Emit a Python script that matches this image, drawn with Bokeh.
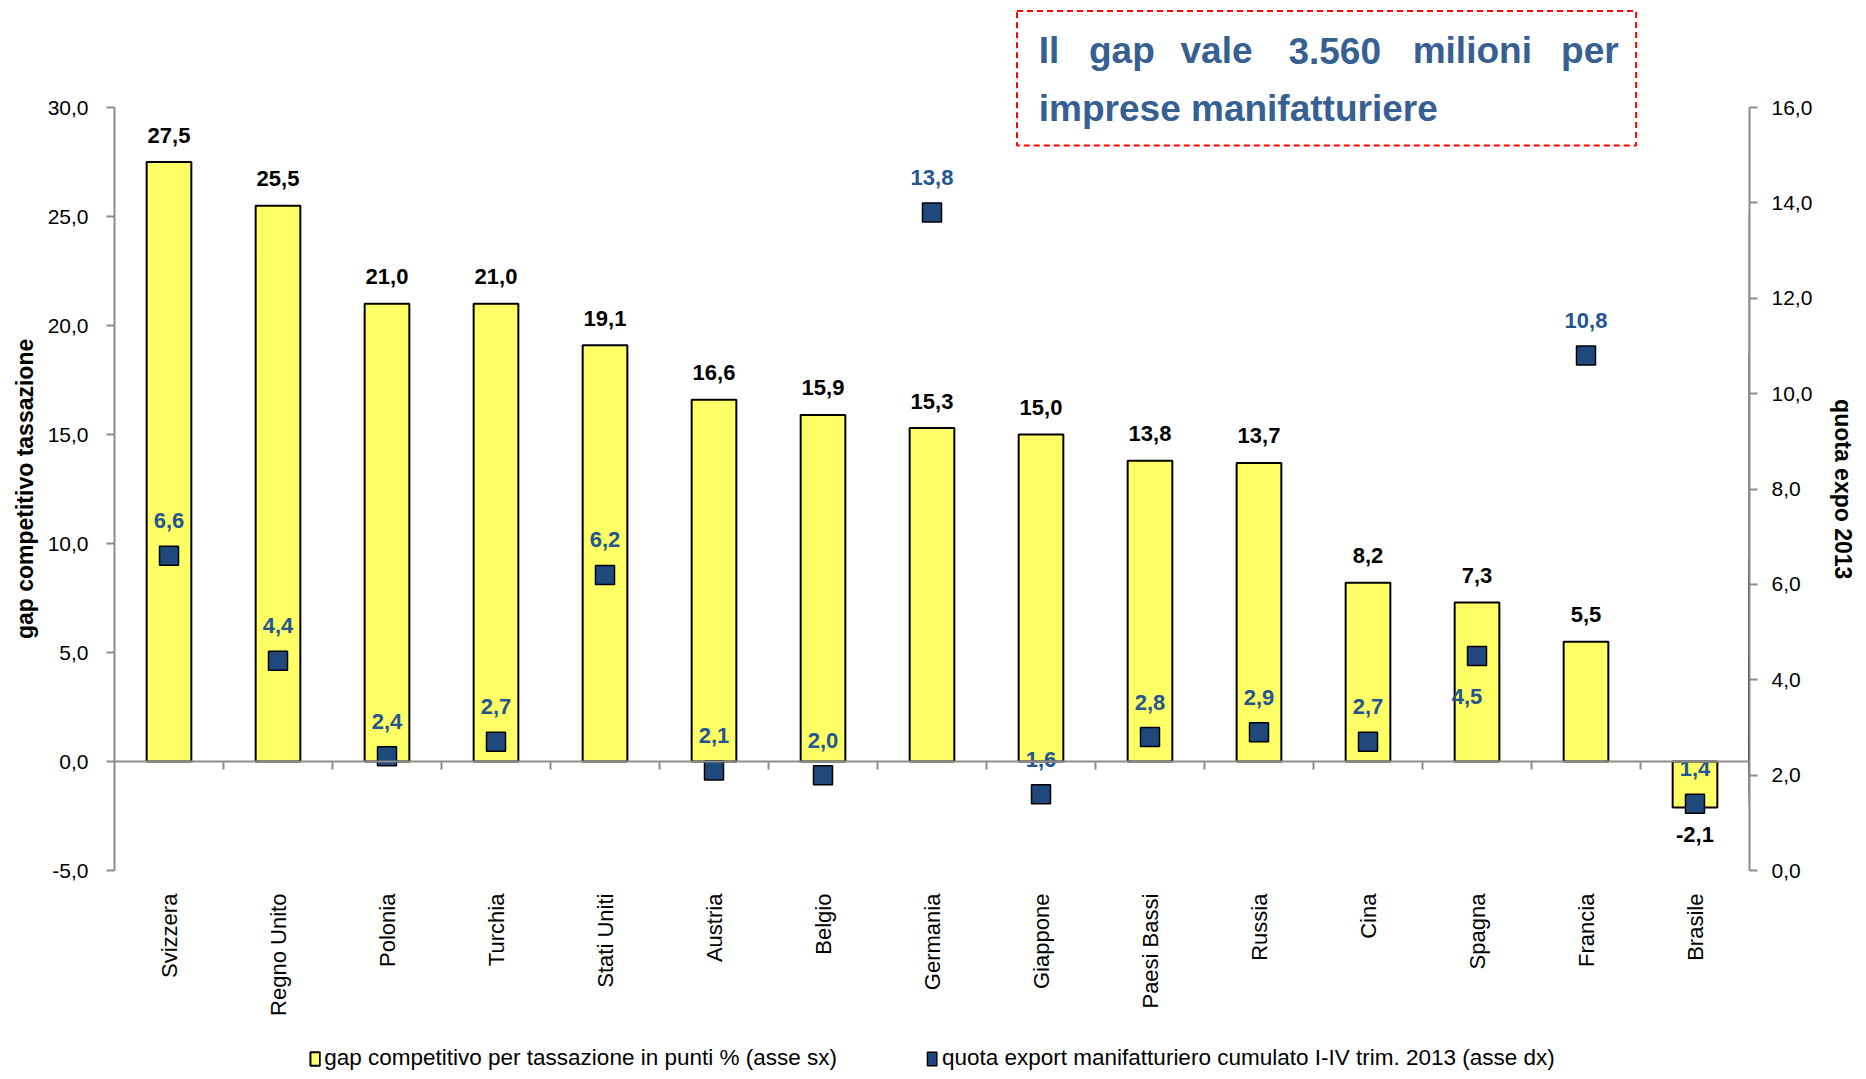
import math
from bokeh.plotting import figure
from bokeh.models import (Range1d, LinearAxis, FixedTicker, ColumnDataSource,
                          BoxAnnotation, Legend, LegendItem, Span, Title)
from bokeh.embed import file_html
from bokeh.resources import INLINE
from bokeh.core.properties import value

# ---------------- data ----------------
countries = ["Svizzera", "Regno Unito", "Polonia", "Turchia", "Stati Uniti",
             "Austria", "Belgio", "Germania", "Giappone", "Paesi Bassi",
             "Russia", "Cina", "Spagna", "Francia", "Brasile"]
gap = [27.5, 25.5, 21.0, 21.0, 19.1, 16.6, 15.9, 15.3, 15.0, 13.8, 13.7, 8.2, 7.3, 5.5, -2.1]
quota = [6.6, 4.4, 2.4, 2.7, 6.2, 2.1, 2.0, 13.8, 1.6, 2.8, 2.9, 2.7, 4.5, 10.8, 1.4]

left_ticks = [-5, 0, 5, 10, 15, 20, 25, 30]
left_tick_labels = ["-5,0", "0,0", "5,0", "10,0", "15,0", "20,0", "25,0", "30,0"]
right_ticks = [0, 2, 4, 6, 8, 10, 12, 14, 16]
right_tick_labels = ["0,0", "2,0", "4,0", "6,0", "8,0", "10,0", "12,0", "14,0", "16,0"]

left_title = "gap competitivo tassazione"
right_title = "quota expo 2013"
legend_labels = ["gap competitivo per tassazione in punti % (asse sx)",
                 "quota export manifatturiero cumulato I-IV trim. 2013 (asse dx)"]
note_line1 = ["Il", "gap", "vale", "3.560", "milioni", "per"]
note_line2 = "imprese manifatturiere"


def fmt(v):
    return f"{v:.1f}".replace(".", ",")


# ---------------- geometry / styles ----------------
Y0, Y1 = -5, 30          # bounded value axis (left)
R0, R1 = 0, 16           # bounded value axis (right)
PPU = 21.8               # pixels per left-axis unit
FRAME_W, FRAME_H = 1635, 1066
Y_TOP = 34.5
Y_BOT = Y_TOP - FRAME_H / PPU
r_scale = (R1 - R0) / (Y1 - Y0)
GRAY = "#8c8c8c"
NAVY = "#1F497D"
LBLUE = "#24558F"
NOTE = "#366092"
YELLOW = "#FFFF66"
FONT = "Liberation Sans"
BORDER_TOP = 9

n = len(countries)
xs = [i + 0.5 for i in range(n)]
quota_left = [Y0 + q / r_scale for q in quota]

q_dx = [0] * n
q_dy = [-35] * n
q_dx[countries.index("Spagna")] = -10
q_dy[countries.index("Spagna")] = 40

src = ColumnDataSource(dict(
    x=xs, gap=gap, gap_lbl=[fmt(g) for g in gap],
    gap_dy=[-27 if g >= 0 else 27 for g in gap],
    q=quota_left, q_lbl=[fmt(q) for q in quota], q_dx=q_dx, q_dy=q_dy,
    base=[Y0] * n, name=countries,
))

p = figure(frame_width=FRAME_W, frame_height=FRAME_H, output_backend="svg",
           toolbar_location=None, x_range=Range1d(0, n),
           y_range=Range1d(Y_BOT, Y_TOP),
           min_border_left=114, min_border_top=BORDER_TOP, min_border_right=108,
           min_border_bottom=0)
p.outline_line_color = None
p.xgrid.visible = False
p.ygrid.visible = False
p.xaxis.visible = False
p.extra_y_ranges = {"right": Range1d(R0 + (Y_BOT - Y0) * r_scale,
                                     R0 + (Y_TOP - Y0) * r_scale)}
# off-screen range used only to provide the legend swatch for the markers
p.extra_x_ranges = {"legend_only": Range1d(-100, -100 + n)}

# left axis
ya = p.yaxis[0]
ya.ticker = FixedTicker(ticks=left_ticks)
ya.major_label_overrides = {t: l for t, l in zip(left_ticks, left_tick_labels)}
ya.bounds = (Y0, Y1)

# right axis
ra = LinearAxis(y_range_name="right",
                ticker=FixedTicker(ticks=right_ticks),
                major_label_overrides={t: l for t, l in zip(right_ticks, right_tick_labels)},
                bounds=(R0, R1))
p.add_layout(ra, "right")

for ax in (ya, ra):
    ax.axis_line_color = GRAY
    ax.axis_line_width = 2
    ax.major_tick_line_color = GRAY
    ax.major_tick_line_width = 2
    ax.major_tick_out = 8
    ax.major_tick_in = 0
    ax.minor_tick_line_color = None
    ax.major_label_text_font = FONT
    ax.major_label_text_font_size = "21px"
    ax.major_label_text_color = "black"
ya.major_label_standoff = 18
ra.major_label_standoff = 14

# axis titles, centred on the bounded part of the axes
y_mid_px = BORDER_TOP + (Y_TOP - (Y0 + Y1) / 2) * PPU
frame_bottom_px = BORDER_TOP + FRAME_H
left_len, right_len = 300, 180
p.add_layout(Title(text=left_title, align="left",
                   offset=frame_bottom_px - (y_mid_px + left_len / 2),
                   standoff=14, text_font=FONT, text_font_style="bold",
                   text_font_size="23px", text_color="black"), "left")
p.add_layout(Title(text=right_title, align="left",
                   offset=(y_mid_px - right_len / 2) - BORDER_TOP,
                   standoff=28, text_font=FONT, text_font_style="bold",
                   text_font_size="23px", text_color="black"), "right")

# category names under the value range
p.text(x="x", y="base", text="name", source=src, angle=math.pi / 2,
       y_offset=23, text_align="right", text_baseline="middle",
       text_font=value(FONT), text_font_size="22px", text_color="black")

# zero line with category separators
p.add_layout(Span(location=0, dimension="width", line_color=GRAY, line_width=2))
bounds_x = list(range(1, n))
tick_len = 8 / PPU
p.segment(x0=bounds_x, x1=bounds_x, y0=[0] * len(bounds_x),
          y1=[-tick_len] * len(bounds_x), line_color=GRAY, line_width=2)

# bars
bars = p.vbar(x="x", top="gap", bottom=0, width=0.41, source=src,
              fill_color=YELLOW, line_color="black", line_width=2)
p.text(x="x", y="gap", text="gap_lbl", source=src, y_offset="gap_dy",
       text_align="center", text_baseline="middle",
       text_font=value(FONT), text_font_style="bold", text_font_size="22px",
       text_color="black")

# markers
pts = p.scatter(x="x", y="q", source=src, marker="square", size=19,
                fill_color=NAVY, line_color="black", line_width=1.5)
p.text(x="x", y="q", text="q_lbl", source=src, x_offset="q_dx", y_offset="q_dy",
       text_align="center", text_baseline="middle",
       text_font=value(FONT), text_font_style="bold", text_font_size="22px",
       text_color=LBLUE)

# legend: real bars for the first swatch, off-screen copy of the markers as bars for the second
leg2 = p.vbar(x="x", top="q", width=0.4, source=src, x_range_name="legend_only",
              fill_color=NAVY, line_color="black", line_width=1.5)
legend = Legend(items=[LegendItem(label=legend_labels[0], renderers=[bars]),
                       LegendItem(label=legend_labels[1], renderers=[leg2])],
                orientation="horizontal", location="bottom_center",
                glyph_width=12, glyph_height=17, label_standoff=4, spacing=89,
                padding=0, margin=4, border_line_color=None,
                background_fill_alpha=0,
                label_text_font=FONT, label_text_font_size="22.5px",
                label_text_color="black")
p.add_layout(legend)

# annotation box
p.add_layout(BoxAnnotation(left=8.28, right=13.96, top=34.43, bottom=28.26,
                           fill_alpha=0, line_color="#FF0000", line_alpha=1,
                           line_width=2, line_dash="6 4"))
y_line1, y_line2 = 32.6, 29.98
word_x = [8.48, 8.94, 9.78, 10.77, 11.91]
p.text(x=word_x, y=[y_line1] * len(word_x), text=note_line1[:-1],
       text_align="left", text_baseline="alphabetic",
       text_font=value(FONT), text_font_style="bold", text_font_size="37px",
       text_color=NOTE)
p.text(x=[13.80], y=[y_line1], text=[note_line1[-1]],
       text_align="right", text_baseline="alphabetic",
       text_font=value(FONT), text_font_style="bold", text_font_size="37px",
       text_color=NOTE)
p.text(x=[8.48], y=[y_line2], text=[note_line2],
       text_align="left", text_baseline="alphabetic",
       text_font=value(FONT), text_font_style="bold", text_font_size="37px",
       text_color=NOTE)

open("out.html", "w").write(file_html(p, INLINE))
